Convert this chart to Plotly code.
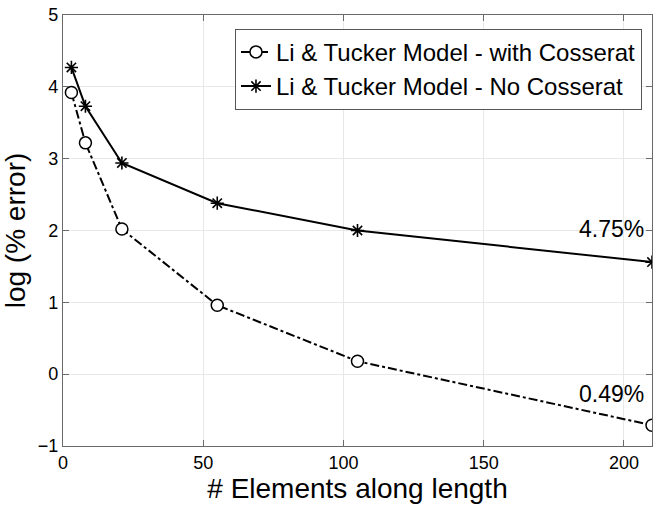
import plotly.graph_objects as go

elements = [3, 8, 21, 55, 105, 210]
with_cosserat = [3.92, 3.22, 2.02, 0.96, 0.18, -0.71]
no_cosserat = [4.27, 3.73, 2.94, 2.38, 2.00, 1.56]
labels = ["Li & Tucker Model - with Cosserat", "Li & Tucker Model - No Cosserat"]
end_labels = ["0.49%", "4.75%"]

FONT = "Liberation Sans, Arial, Helvetica, sans-serif"

fig = go.Figure()
fig.add_trace(go.Scatter(
    x=elements, y=with_cosserat, name=labels[0], mode="lines+markers",
    line=dict(color="black", width=2, dash="dashdot"),
    marker=dict(symbol="circle", size=12, color="white", line=dict(color="black", width=1.5)),
))
fig.add_trace(go.Scatter(
    x=elements, y=no_cosserat, name=labels[1], mode="lines+markers",
    line=dict(color="black", width=2),
    marker=dict(symbol="asterisk-open", size=11, color="black", line=dict(color="black", width=1.6)),
))

fig.add_annotation(x=elements[-1], y=with_cosserat[-1], text=end_labels[0], showarrow=False,
                   xanchor="right", yanchor="middle", xshift=-6, yshift=31,
                   font=dict(family=FONT, size=23, color="black"))
fig.add_annotation(x=elements[-1], y=no_cosserat[-1], text=end_labels[1], showarrow=False,
                   xanchor="right", yanchor="middle", xshift=-6, yshift=33,
                   font=dict(family=FONT, size=23, color="black"))

axis_common = dict(showgrid=True, gridcolor="#e8e8e8", gridwidth=1, showline=True, linecolor="#6a6a6a",
                   linewidth=1.2, mirror="ticks", ticks="inside", ticklen=6, tickcolor="#6a6a6a",
                   tickfont=dict(family=FONT, size=18, color="black"), zeroline=False)

fig.update_layout(
    width=657, height=511,
    margin=dict(l=63, r=5, t=15, b=65),
    plot_bgcolor="white", paper_bgcolor="white",
    font=dict(family=FONT, color="black"),
    xaxis=dict(range=[0, 210], tickvals=[0, 50, 100, 150, 200],
               title=dict(text="# Elements along length", font=dict(family=FONT, size=28), standoff=5),
               **axis_common),
    yaxis=dict(range=[-1, 5], tickvals=[-1, 0, 1, 2, 3, 4, 5],
               title=dict(text="log (% error)", font=dict(family=FONT, size=28), standoff=8),
               **axis_common),
    legend=dict(x=0.983, y=0.968, xanchor="right", yanchor="top", bgcolor="white",
                bordercolor="#555", borderwidth=1, font=dict(family=FONT, size=24),
                tracegroupgap=0, itemwidth=30),
    showlegend=True,
)

fig.write_html("out.html", config={"displayModeBar": False},
               post_script="document.body.style.margin='0';")
